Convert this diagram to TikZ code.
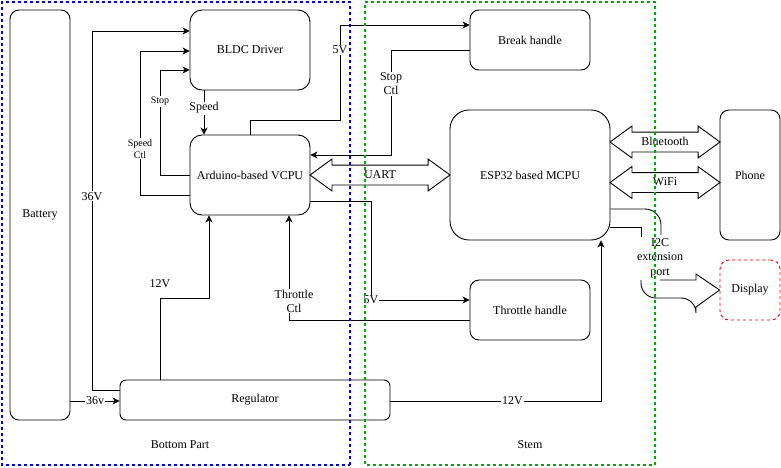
\documentclass[tikz,border=0pt]{standalone}
\usepackage{fontspec}
\setmainfont{Liberation Serif}
\usetikzlibrary{arrows.meta, calc, shapes.arrows}

\definecolor{partblue}{RGB}{0,0,220}
\definecolor{stemgreen}{RGB}{0,170,0}
\definecolor{dispred}{RGB}{235,0,0}

\begin{document}
\begin{tikzpicture}[
    x=1pt, y=-1pt,
    line width=0.9pt,
    font=\fontsize{12}{14}\selectfont,
    >={Stealth[length=7pt, width=7pt, inset=2pt]},
    block/.style={
        rectangle,
        draw,
        align=center,
        inner sep=0pt
    },
    lbl/.style={fill=white, inner sep=1pt, align=center},
    smalllbl/.style={lbl, font=\fontsize{10}{12}\selectfont},
    hollow/.style={
        double arrow,
        draw,
        inner xsep=0pt,
        inner ysep=4pt,
        text height=8.5pt,
        text depth=2.5pt,
        double arrow head extend=6pt,
        double arrow tip angle=72
    },
    part/.style={dash pattern=on 3pt off 3pt, line width=1.1pt}
]
\useasboundingbox (0,0) rectangle (781,467);

% blocks
\node[block, minimum width=60pt, minimum height=410pt, rounded corners=9pt] (battery) at (40,215) {Battery};
\node[block, minimum width=120pt, minimum height=80pt, rounded corners=12pt] (bldc) at (250,50) {BLDC Driver};
\node[block, minimum width=120pt, minimum height=80pt, rounded corners=12pt] (vcpu) at (250,175) {Arduino-based VCPU};
\node[block, minimum width=120pt, minimum height=60pt, rounded corners=9pt] (brk) at (530,40) {Break handle};
\node[block, minimum width=160pt, minimum height=130pt, rounded corners=19pt] (mcpu) at (530,175) {ESP32 based MCPU};
\node[block, minimum width=60pt, minimum height=130pt, rounded corners=9pt] (phone) at (750,175) {Phone};
\node[block, draw=dispred, dash pattern=on 3pt off 3pt, minimum width=60pt, minimum height=60pt, rounded corners=9pt] (display) at (750,290) {Display};
\node[block, minimum width=120pt, minimum height=60pt, rounded corners=9pt] (throttle) at (530,310) {Throttle handle};
\node[block, minimum width=270pt, minimum height=40pt, rounded corners=6pt] (regulator) at (255,400) {Regulator};

% power
\draw[->] (battery.east |- 0,401) -- node[lbl]{36v} (regulator.west |- 0,401);
\draw[->] (regulator.west |- 0,390) -| node[lbl, pos=0.77]{36V} (92,31) -- (bldc.west |- 0,31);
\draw[->] (regulator.north -| 160,0) -- (160,298) node[lbl, above=9pt]{12V} -| (vcpu.south -| 209,0);
\draw[->] (regulator.east |- 0,401) -| node[lbl, pos=0.29]{12V} (mcpu.south -| 601,0);

% motor control
\draw[->] (vcpu.west |- 0,195) -| node[smalllbl, pos=0.66]{Speed\\Ctl} (140,51) -- (bldc.west |- 0,51);
\draw[->] (vcpu.west |- 0,175) -| node[smalllbl, pos=0.85]{Stop} (160,70) -- (bldc.west |- 0,70);
\draw[->] (bldc.south -| 204,0) -- node[lbl, pos=0.4]{Speed} (vcpu.north -| 204,0);

% handles
\draw[->] (vcpu.north -| 250,0) |- (340,120) |- node[lbl, pos=0.37]{5V} (brk.west |- 0,25);
\draw[->] (brk.west |- 0,50) -| node[lbl, pos=0.66]{Stop\\Ctl} (391,155) -- (vcpu.east |- 0,155);
\draw[->] (vcpu.east |- 0,201) -| (371,300) node[lbl]{5V} -- (throttle.west |- 0,300);
\draw[->] (throttle.west |- 0,320) -| node[lbl, pos=0.59, xshift=5pt]{Throttle\\Ctl} (vcpu.south -| 289,0);

% buses
\node[hollow, minimum height=140pt] (uart) at ($(vcpu.east)!0.5!(mcpu.west)$) {UART};
\node[hollow, minimum height=110pt] (bt) at ($(mcpu.east)!0.5!(phone.west)+(0,-33)$) {Bluetooth};
\node[hollow, minimum height=110pt] (wifi) at ($(mcpu.east)!0.5!(phone.west)+(0,7.5)$) {WiFi};

% I2C port
\draw[rounded corners=16pt] (mcpu.east |- 0,209) -- (661,209) -- (661,235);
\draw (mcpu.east |- 0,227) -- (641,227) -- (641,237);
\node[align=center, font=\fontsize{12}{14.5}\selectfont] (i2c) at (660,258) {I2C\\extension\\port};
\draw (641,280) [rounded corners=15pt] -- (641,298) -- (696,298) [sharp corners] -- (696,307) -- (display.west) -- (696,274) -- (696,280) -- (660,280);

% parts
\draw[part, draw=partblue] (350,465) rectangle (2,2);
\draw[part, draw=stemgreen] (655,465) rectangle (365,2);
\node (bottom) at (180,445) {Bottom Part};
\node (stem) at (530,445) {Stem};

\end{tikzpicture}
\end{document}
